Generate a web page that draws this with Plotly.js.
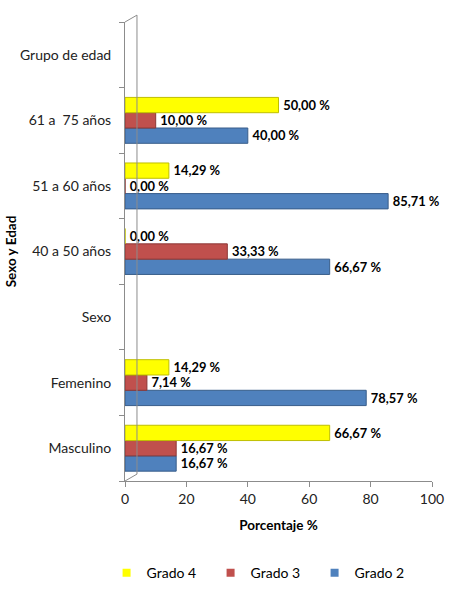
<!DOCTYPE html>
<html><head><meta charset="utf-8">
<script src="https://cdn.plot.ly/plotly-3.0.1.min.js"></script>
<style>body{margin:0;background:#fff}#c{width:459px;height:600px}</style>
</head><body><div id="c"></div>
<script>
var categories = ["Masculino","Femenino","Sexo","40 a 50 años","51 a 60 años","61 a  75 años","Grupo de edad"];
var grado2 = [16.67, 78.57, null, 66.67, 85.71, 40.00, null];
var grado3 = [16.67, 7.14, null, 33.33, 0.00, 10.00, null];
var grado4 = [66.67, 14.29, null, 0.00, 14.29, 50.00, null];
var xTicks = [0,20,40,60,80,100];
var seriesNames = ['Grado 2','Grado 3','Grado 4'];
var seriesColors = ['#4F81BD','#C0504D','#FFFF00'];
var seriesEdges = ['#385D8A','#8C3836','#BFBF00'];

var FONT = 'Lato, Open Sans, sans-serif';
function fmt(arr){return arr.map(function(v){return v===null?'':'\u2009'+v.toFixed(2).replace('.',',')+' %';});}
function mk(i, vals){
  return {type:'bar', orientation:'h', name:seriesNames[i], y:categories, x:vals,
    text:fmt(vals), textposition:'outside', cliponaxis:false, showlegend:false,
    textfont:{family:FONT, size:13.5, color:'#000', weight:'bold'},
    marker:{color:seriesColors[i], line:{color:seriesEdges[i], width:1}}, hoverinfo:'x'};
}
function lg(i){
  return {type:'scatter', mode:'markers', name:seriesNames[i], x:[null], y:[null],
    marker:{symbol:'square', size:8, color:seriesColors[i]}, showlegend:true, hoverinfo:'skip'};
}
var data = [mk(0,grado2), mk(1,grado3), mk(2,grado4), lg(0), lg(1), lg(2)];
var layout = {
  width:459, height:600, paper_bgcolor:'#fff', plot_bgcolor:'#fff',
  margin:{l:125, r:27, t:22, b:118},
  barmode:'group', bargap:0.3, bargroupgap:0,
  font:{family:FONT, size:14, color:'#222'},
  xaxis:{range:[0,100], tickvals:xTicks, showgrid:false, zeroline:false,
    showline:true, linecolor:'#8c8c8c', ticks:'outside', ticklen:5, tickcolor:'#8c8c8c',
    tickfont:{size:14, color:'#222'},
    title:{text:'<b>Porcentaje %</b>', font:{size:13.5, color:'#000'}, standoff:14}},
  yaxis:{type:'category', categoryorder:'array', categoryarray:categories, range:[-0.5,6.5],
    showgrid:false, zeroline:false, showline:true, linecolor:'#8c8c8c', ticks:'outside',
    tickson:'boundaries', ticklen:5, tickcolor:'#8c8c8c', tickfont:{size:14, color:'#222'},
    ticklabelstandoff:10,
    title:{text:'<b>Sexo y Edad</b>', font:{size:13.5, color:'#000'}, standoff:0}},
  legend:{orientation:'h', x:-0.06, xanchor:'left', y:-0.198, yanchor:'middle',
    traceorder:'reversed', font:{size:14, color:'#000'}, itemwidth:30,
    entrywidth:59, entrywidthmode:'pixels'},
  showlegend:true,
  shapes:[
    {type:'line', xref:'paper', yref:'paper', x0:0.039, x1:0.039, y0:0.015, y1:1.015, line:{color:'#8c8c8c', width:1}},
    {type:'line', xref:'paper', yref:'paper', x0:0, x1:0.039, y0:0, y1:0.015, line:{color:'#8c8c8c', width:1}},
    {type:'line', xref:'paper', yref:'paper', x0:0, x1:0.039, y0:1, y1:1.015, line:{color:'#8c8c8c', width:1}}
  ]
};
Plotly.newPlot('c', data, layout, {displayModeBar:false, staticPlot:true});
</script></body></html>
